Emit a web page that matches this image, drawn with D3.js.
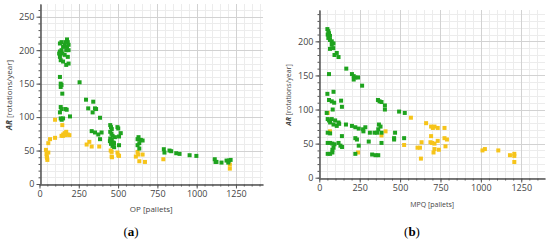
<!DOCTYPE html>
<html><head><meta charset="utf-8">
<script src="https://cdn.jsdelivr.net/npm/d3@7"></script>
<style>body{margin:0;background:#fff}svg{display:block}</style>
</head><body>
<script>
// ---- Data (a): OP [pallets] vs AR [rotations/year]
const aGreen = [[130,210],[140,212],[150,205],[160,208],[175,216],[180,212],[185,208],[170,200],[140,200],[130,198],[145,195],[130,190],[160,193],[180,190],[185,180],[150,183],[170,178],[125,195],[135,185],[175,205],[185,200],[165,212],
[130,160],[135,150],[140,148],[135,145],[145,135],[135,115],[140,112],[130,107],[135,98],[150,98],[165,112],[194,101],[141,96],[173,111],[255,152],
[296,126],[342,123],[310,113],[353,113],[338,107],[360,112],[385,99],[332,79],[353,77],[374,74],[395,77],[385,67],
[450,88],[455,85],[460,82],[450,78],[458,75],[465,72],[450,68],[460,66],[448,64],[470,62],[455,60],[465,57],[475,55],[480,70],[496,85],[506,71],[517,76],[474,61],[506,58],[501,83],
[624,67],[635,61],[645,66],[624,58],[635,53],[656,65],[630,70],
[791,52],[795,47],[827,50],[838,49],[870,46],[891,45],[955,43],[998,42],
[1115,37],[1120,33],[1126,33],[1158,32],[1190,35],[1201,32],[1216,36],[1205,35]];
const aYellow = [[99,96],[99,69],[67,67],[56,61],[151,74],[140,72],[160,76],[170,78],[180,74],[190,73],[150,72],[165,73],[145,88],
[41,51],[56,47],[46,41],[50,36],[45,45],[48,39],
[300,59],[317,63],[332,56],[380,56],[459,48],[459,41],[501,43],[453,50],[496,47],[461,40],[506,42],
[624,48],[628,44],[656,44],[635,34],[671,33],[613,41],[788,37],[1211,29],[1211,23]];
// ---- Data (b): MPQ [pallets] vs AR
const bGreen = [[50,218],[56,215],[60,212],[66,208],[52,210],[56,205],[66,202],[77,200],[88,197],[77,195],[66,189],[87,190],[94,180],[108,183],[119,177],[167,160],[202,152],[213,149],[223,147],[213,144],[240,147],[265,135],[60,152],
[50,123],[88,126],[60,114],[77,112],[92,110],[135,113],[83,100],[140,104],
[363,114],[373,112],[385,111],[406,106],[406,100],[494,97],[529,95],
[46,95],[52,86],[60,84],[77,86],[67,81],[98,84],[88,78],[119,81],[108,76],[123,79],[165,78],[202,76],[223,74],[244,72],[271,71],[285,74],[273,68],[313,66],[342,66],[358,66],[365,71],[369,78],[379,75],[469,66],[463,58],[463,56],[525,58],[385,66],
[52,66],[67,65],[52,51],[67,51],[81,50],[94,49],[119,51],[131,47],[141,45],[140,61],[223,58],[233,56],[244,47],[306,53],[385,51],
[52,35],[67,35],[81,37],[81,41],[88,44],[223,35],[327,34],[348,33],[365,33]];
const bYellow = [[52,95],[66,68],[567,88],[661,80],[692,75],[703,73],[713,75],[733,73],[775,73],[775,58],[790,56],[692,61],[698,51],[713,50],[733,54],[688,52],[623,44],[633,52],[608,44],[629,28],[707,37],[713,42],[740,41],[781,46],[525,48],[410,68],[385,62],[240,37],
[1010,40],[1025,42],[1108,40],[1180,33],[1207,35],[1207,32],[1207,23]];
const xTicks = [0,250,500,750,1000,1250];
const yTicksA = [0,50,100,150,200,250];
const yTicksB = [0,50,100,150,200];
const GREEN = "#1ea31e", YELLOW = "#f6c41a";

const svg = d3.select("body").append("svg").attr("width",550).attr("height",241)
  .style("font-family","'Open Sans','Liberation Sans',sans-serif");

function panel(cfg){
  const x = d3.scaleLinear().domain([0,cfg.xmax]).range([cfg.x0,cfg.x1]);
  const y = d3.scaleLinear().domain([0,cfg.ymax]).range([cfg.y0,cfg.y1]);
  const g = svg.append("g");
  // minor grid
  g.append("g").selectAll("line").data(d3.range(0,cfg.xmax+1,50)).join("line")
    .attr("x1",d=>Math.round(x(d))+0.5).attr("x2",d=>Math.round(x(d))+0.5)
    .attr("y1",cfg.y0).attr("y2",cfg.y1).attr("stroke","#ececec");
  g.append("g").selectAll("line").data(d3.range(0,cfg.ymax+1,10)).join("line")
    .attr("y1",d=>Math.round(y(d))+0.5).attr("y2",d=>Math.round(y(d))+0.5)
    .attr("x1",cfg.x0).attr("x2",cfg.x1).attr("stroke","#ececec");
  // major grid
  g.append("g").selectAll("line").data(xTicks).join("line")
    .attr("x1",d=>Math.round(x(d))+0.5).attr("x2",d=>Math.round(x(d))+0.5)
    .attr("y1",cfg.y0).attr("y2",cfg.y1).attr("stroke","#d2d2d2");
  g.append("g").selectAll("line").data(cfg.yTicks).join("line")
    .attr("y1",d=>Math.round(y(d))+0.5).attr("y2",d=>Math.round(y(d))+0.5)
    .attr("x1",cfg.x0).attr("x2",cfg.x1).attr("stroke","#d2d2d2");
  // points
  const s = 4;
  g.append("g").selectAll("rect").data(cfg.yellow).join("rect")
    .attr("x",d=>x(d[0])-s/2).attr("y",d=>y(d[1])-s/2).attr("width",s).attr("height",s).attr("fill",YELLOW);
  g.append("g").selectAll("rect").data(cfg.green).join("rect")
    .attr("x",d=>x(d[0])-s/2).attr("y",d=>y(d[1])-s/2).attr("width",s).attr("height",s).attr("fill",GREEN);
  // axes
  const xa = g.append("g").attr("transform",`translate(0,${Math.round(cfg.y0)+0.5})`)
    .call(d3.axisBottom(x).tickValues(xTicks).tickFormat(d3.format("d")).tickSize(4).tickSizeOuter(0).tickPadding(2));
  const xm = g.append("g").attr("transform",`translate(0,${Math.round(cfg.y0)+0.5})`)
    .call(d3.axisBottom(x).tickValues(d3.range(0,cfg.xmax+1,50)).tickSize(2).tickFormat("").tickSizeOuter(0));
  const ya = g.append("g").attr("transform",`translate(${Math.round(cfg.x0)+0.5},0)`)
    .call(d3.axisLeft(y).tickValues(cfg.yTicks).tickFormat(d3.format("d")).tickSize(4).tickSizeOuter(0).tickPadding(2));
  const ym = g.append("g").attr("transform",`translate(${Math.round(cfg.x0)+0.5},0)`)
    .call(d3.axisLeft(y).tickValues(d3.range(0,cfg.ymax+1,10)).tickSize(2).tickFormat("").tickSizeOuter(0));
  [xa,xm,ya,ym].forEach(a=>{a.select(".domain").attr("stroke","#555");a.selectAll("line").attr("stroke","#555");
    a.selectAll("text").attr("fill","#444").style("font-size","9px").style("font-family","'Open Sans','Liberation Sans',sans-serif");});
  // labels
  g.append("text").attr("x",(cfg.x0+cfg.x1)/2).attr("y",cfg.xlabY).attr("text-anchor","middle")
    .attr("fill","#444").style("font-size",cfg.labFs+"px").text(cfg.xlabel);
  const yl = g.append("text").attr("transform",`translate(${cfg.ylabX},${cfg.ylabY}) rotate(-90)`)
    .attr("text-anchor","middle").attr("fill","#444").style("font-size",cfg.labFs+"px");
  yl.append("tspan").attr("font-style","italic").attr("font-weight","bold").text("AR");
  yl.append("tspan").text(" [rotations/year]");
  const cap = svg.append("text").attr("x",cfg.capX).attr("y",236).attr("text-anchor","middle")
    .style("font-family","'Liberation Serif','DejaVu Serif',serif").style("font-size","13px").attr("fill","#000");
  cap.append("tspan").text("(");
  cap.append("tspan").attr("font-weight","bold").text(cfg.cap);
  cap.append("tspan").text(")");
}

panel({x0:39.5,x1:263,y0:184,y1:4,xmax:1422,ymax:269,yTicks:yTicksA,green:aGreen,yellow:aYellow,
  xlabel:"OP [pallets]",xlabY:212,ylabX:12,ylabY:95,labFs:8,capX:131,cap:"a"});
panel({x0:319.3,x1:545,y0:177.7,y1:10,xmax:1397,ymax:246,yTicks:yTicksB,green:bGreen,yellow:bYellow,
  xlabel:"MPQ [pallets]",xlabY:206.5,ylabX:291,ylabY:95,labFs:7,capX:412,cap:"b"});
</script>
</body></html>
